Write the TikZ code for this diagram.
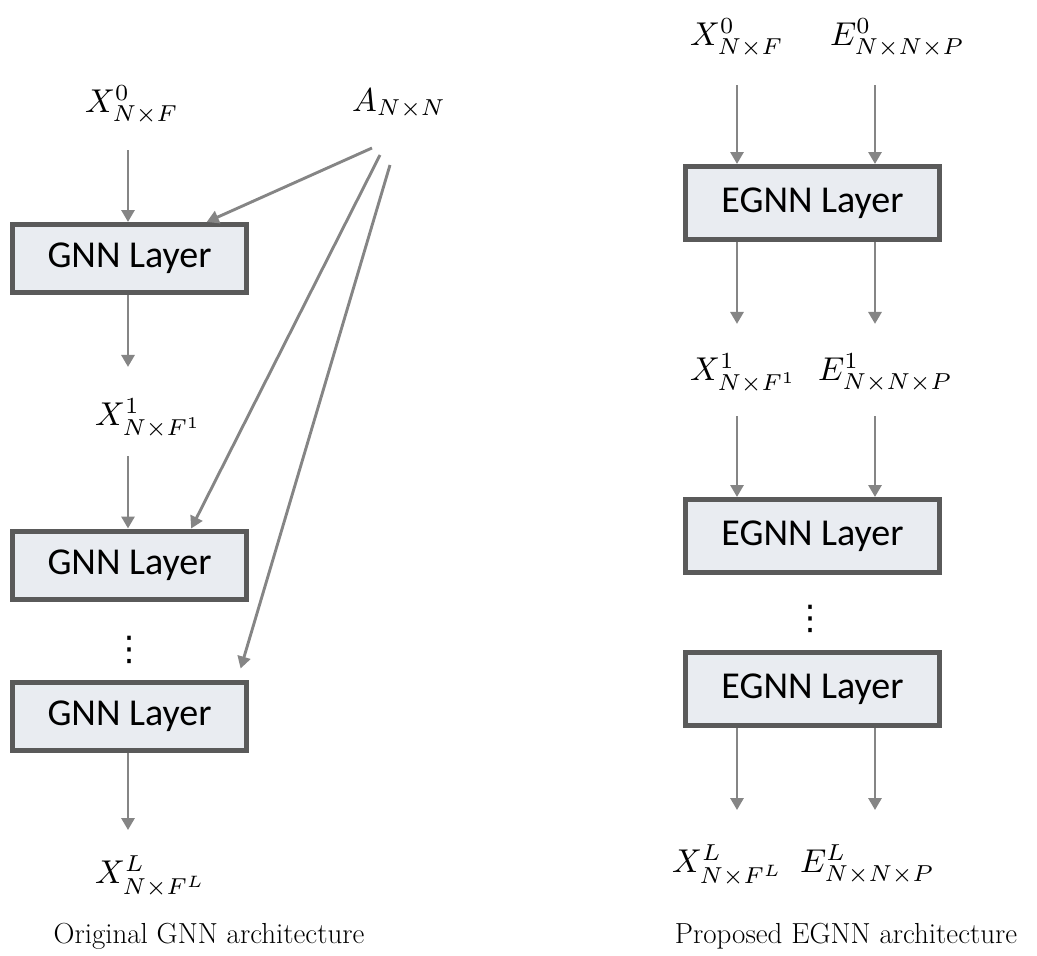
\documentclass[tikz,border=0pt]{standalone}
\usepackage{graphicx}
\usepackage{fontspec}
\newfontfamily\carlito{Carlito}
\newfontfamily\dejavu{DejaVu Sans}
\newcommand\mth[1]{\scalebox{3.3}{$#1$}}
\usetikzlibrary{arrows.meta,calc}
\definecolor{arrgray}{HTML}{858585}
\definecolor{boxborder}{HTML}{5A5A5A}
\definecolor{boxfill}{HTML}{E9ECF1}
\begin{document}
\begin{tikzpicture}[x=1pt,y=-1pt,
  layer/.style={draw=boxborder, line width=5pt, fill=boxfill, font=\carlito\fontsize{38}{44}\selectfont, inner sep=0pt},
  lgnn/.style={layer, minimum width=234pt, minimum height=68pt},
  legnn/.style={layer, minimum width=254pt, minimum height=73pt},
  lab/.style={inner sep=0pt, anchor=base west},
  arr/.style={draw=arrgray, line width=2.9pt, -{Triangle[width=13pt,length=12pt]}},
  captxt/.style={font=\fontsize{29}{34}\selectfont, inner sep=0pt, anchor=base},
  dotsn/.style={font=\dejavu\fontsize{34}{40}\selectfont, inner sep=0pt}]
\useasboundingbox (0,0) rectangle (1037,956);
\coordinate (lx) at (128,0);
\coordinate (cx) at (737,0);
\coordinate (ce) at (875,0);
% left column
\node[lab] (x0) at (85,112) {\mth{X^0_{N\times F}}};
\node[lab] (A) at (352,111) {\mth{A_{N\times N}}};
\node[lgnn] (b1) at (129.5,258.5) {GNN Layer};
\node[lab] (x1) at (95,425) {\mth{X^1_{N\times F^1}}};
\node[lgnn] (b2) at (129.5,565) {GNN Layer};
\node[dotsn] (d1) at (129,650) {⋮};
\node[lgnn] (b3) at (129.5,716) {GNN Layer};
\node[lab] (xL) at (95,883) {\mth{X^L_{N\times F^L}}};
\node[captxt] (c1) at (209,943) {Original GNN architecture};
\draw[arr, shorten <=26pt] (lx |- x0.south) -- (lx |- b1.north);
\draw[arr, shorten >=31pt] (lx |- b1.south) -- (lx |- x1.north);
\draw[arr, shorten <=18pt] (lx |- x1.south) -- (lx |- b2.north);
\draw[arr, shorten >=25pt] (lx |- b3.south) -- (lx |- xL.north);
\draw[arr] ($(A.base west)+(20,37)$) -- ($(b1.north west)!0.823!(b1.north east)$);
\draw[arr] ($(A.base west)+(28,44)$) -- ($(b2.north west)!0.758!(b2.north east)$);
\draw[arr] ($(A.base west)+(38,54)$) -- ($(b3.north west)!0.965!(b3.north east)+(0,-11)$);
% right column
\node[lab] (x0r) at (690,45) {\mth{X^0_{N\times F}}};
\node[lab] (e0r) at (830,45) {\mth{E^0_{N\times N\times P}}};
\node[legnn] (e1) at (812.5,203) {EGNN Layer};
\node[lab] (x1r) at (690,380) {\mth{X^1_{N\times F^1}}};
\node[lab] (e1r) at (818,380) {\mth{E^1_{N\times N\times P}}};
\node[legnn] (e2) at (812.5,536) {EGNN Layer};
\node[dotsn] (d2) at (810,619) {⋮};
\node[legnn] (e3) at (812.5,689) {EGNN Layer};
\node[lab] (xLr) at (672,872) {\mth{X^L_{N\times F^L}}};
\node[lab] (eLr) at (800,872) {\mth{E^L_{N\times N\times P}}};
\node[captxt] (c2) at (846,943) {Proposed EGNN architecture};
\draw[arr, shorten <=28pt] (cx |- x0r.south) -- (cx |- e1.north);
\draw[arr, shorten <=28pt] (ce |- x0r.south) -- (ce |- e1.north);
\draw[arr, shorten >=29pt] (cx |- e1.south) -- (cx |- x1r.north);
\draw[arr, shorten >=29pt] (ce |- e1.south) -- (ce |- x1r.north);
\draw[arr, shorten <=23pt] (cx |- x1r.south) -- (cx |- e2.north);
\draw[arr, shorten <=23pt] (ce |- x1r.south) -- (ce |- e2.north);
\draw[arr, shorten >=34pt] (cx |- e3.south) -- (cx |- xLr.north);
\draw[arr, shorten >=34pt] (ce |- e3.south) -- (ce |- xLr.north);
\end{tikzpicture}
\end{document}
